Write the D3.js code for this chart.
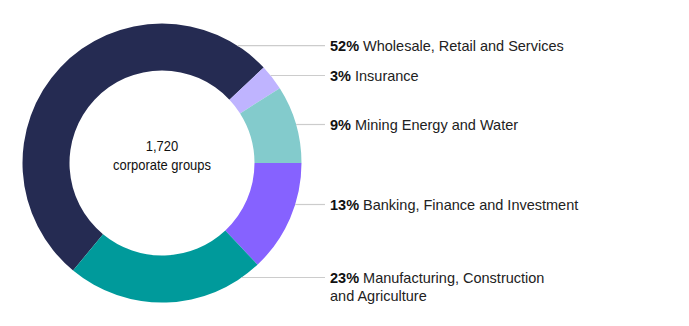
<!DOCTYPE html>
<html><head><meta charset="utf-8">
<script src="https://cdn.jsdelivr.net/npm/d3@7"></script>
<style>body{margin:0;background:#fff;}svg{display:block;}</style>
</head><body>
<svg id="chart" width="689" height="326"></svg>
<script>
const categories = ["Wholesale, Retail and Services","Insurance","Mining Energy and Water","Banking, Finance and Investment","Manufacturing, Construction|and Agriculture"];
const values = [52, 3, 9, 13, 23];
const colors = ["#252b52","#bfb4ff","#83cbcc","#8662ff","#009a9b"];
const labelY = [45.7, 75.5, 124.5, 204.5, 277.5];
const totalLabel = ["1,720","corporate groups"];

const svg = d3.select("#chart");
const cx = 162, cy = 163, rOuter = 139.5, rInner = 92.5;
const total = d3.sum(values);
const startA = Math.PI/2 - (values[0]+values[1]+values[2])/total*2*Math.PI;
const pie = d3.pie().sort(null).value(d=>d).startAngle(startA).endAngle(startA+2*Math.PI);
const arcs = pie(values);
const arc = d3.arc().innerRadius(rInner).outerRadius(rOuter);
const g = svg.append("g").attr("transform",`translate(${cx},${cy})`);
g.selectAll("path").data(arcs).join("path").attr("d",arc).attr("fill",(d,i)=>colors[i]);

const lineEnd = 325;
arcs.forEach((a,i)=>{
  const y = labelY[i]-cy;
  let xs = Math.sqrt(Math.max(0, rOuter*rOuter - y*y));
  svg.append("line").attr("x1",cx+xs).attr("x2",lineEnd).attr("y1",labelY[i]).attr("y2",labelY[i])
    .attr("stroke","#cccccc").attr("stroke-width",1.2);
  const t = svg.append("text").attr("x",330).attr("y",labelY[i]+5)
    .style("font-family","'Liberation Sans', Arial, sans-serif").attr("font-size",14.5).attr("fill","#222");
  const parts = categories[i].split("|");
  t.append("tspan").attr("font-weight","bold").attr("fill","#111").text(values[i]+"%");
  t.append("tspan").text(" "+parts[0]);
  if(parts[1]) t.append("tspan").attr("x",330).attr("dy",18.5).text(parts[1]);
});

const centerFont = "'Liberation Sans', Arial, sans-serif";
svg.append("text").attr("text-anchor","middle").attr("x",cx).attr("y",151)
  .style("font-family",centerFont).attr("font-size",14.5).attr("fill","#111")
  .attr("textLength",32.5).attr("lengthAdjust","spacingAndGlyphs").text(totalLabel[0]);
svg.append("text").attr("text-anchor","middle").attr("x",cx).attr("y",169.5)
  .style("font-family",centerFont).attr("font-size",14.5).attr("fill","#111")
  .attr("textLength",98).attr("lengthAdjust","spacingAndGlyphs").text(totalLabel[1]);
</script>
</body></html>
